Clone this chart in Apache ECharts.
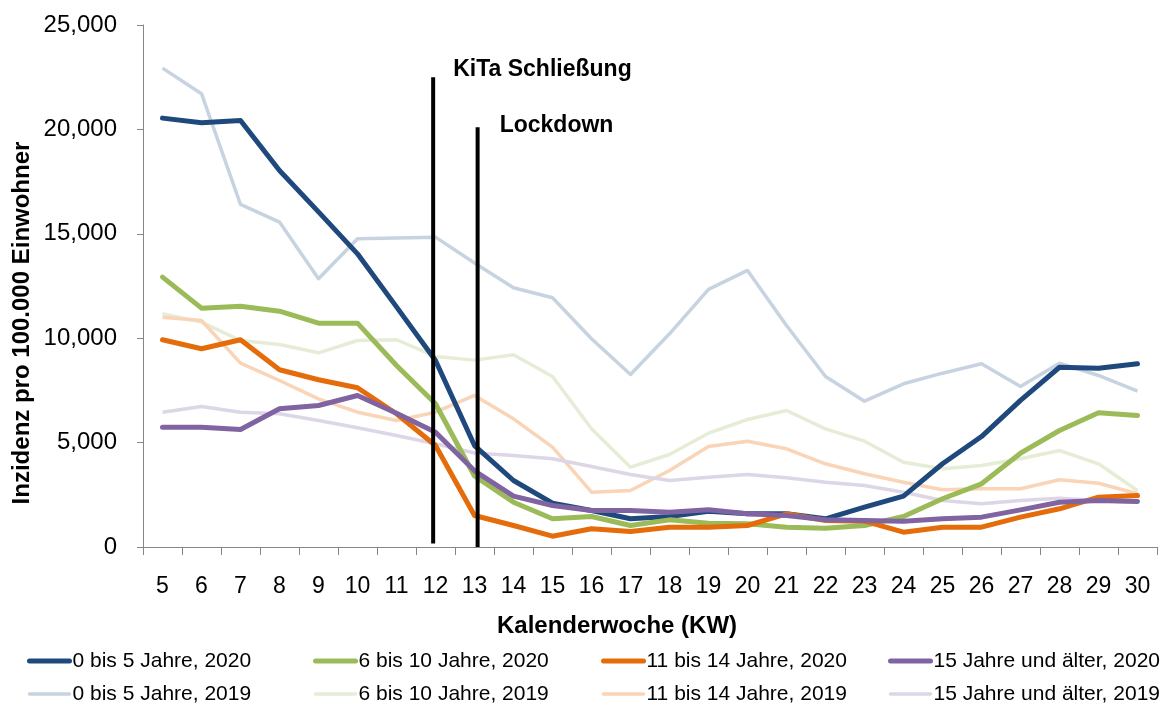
<!DOCTYPE html>
<html>
<head>
<meta charset="utf-8">
<script src="https://cdn.jsdelivr.net/npm/echarts@6/dist/echarts.min.js"></script>
<style>
html,body{margin:0;padding:0;background:#fff;}
#chart{width:1169px;height:706px;}
</style>
</head>
<body>
<div id="chart"></div>
<script>
var weeks = ['5','6','7','8','9','10','11','12','13','14','15','16','17','18','19','20','21','22','23','24','25','26','27','28','29','30'];
var yTicks = [0, 5000, 10000, 15000, 20000, 25000];

var age0to5_2020 = [20540,20320,20430,18030,16050,14040,11500,8930,4860,3185,2100,1750,1350,1460,1715,1590,1590,1350,1910,2435,3985,5290,7020,8610,8565,8775];
var age6to10_2020 = [12925,11440,11535,11295,10720,10720,8695,6860,3400,2146,1350,1460,1030,1300,1140,1110,950,900,1030,1460,2310,3027,4493,5580,6428,6300];
var age11to14_2020 = [9925,9494,9925,8488,8009,7625,6380,4862,1509,1030,517,872,742,950,950,1030,1590,1270,1236,710,950,950,1430,1830,2385,2467];
var age15plus_2020 = [5738,5738,5628,6620,6778,7257,6409,5499,3650,2435,1988,1748,1748,1668,1780,1590,1509,1300,1270,1236,1350,1430,1780,2146,2227,2180];

var age0to5_2019 = [22935,21710,16405,15560,12850,14760,14800,14840,13600,12415,11937,9970,8263,10210,12335,13245,10610,8167,6985,7817,8325,8775,7690,8805,8215,7463];
var age6to10_2019 = [11170,10770,9890,9700,9300,9890,9925,9125,8950,9205,8167,5660,3822,4430,5450,6107,6538,5660,5068,4062,3745,3904,4225,4622,3985,2706];
var age11to14_2019 = [11008,10850,8805,7975,7098,6457,6060,6457,7257,6140,4780,2625,2706,3664,4814,5068,4704,3985,3506,3104,2740,2788,2788,3219,3056,2548];
var age15plus_2019 = [6457,6730,6457,6380,6060,5710,5340,4943,4500,4383,4225,3856,3473,3185,3345,3473,3315,3104,2946,2625,2227,2069,2227,2337,2227,2146];

var seriesNames2020 = ['0 bis 5 Jahre, 2020','6 bis 10 Jahre, 2020','11 bis 14 Jahre, 2020','15 Jahre und älter, 2020'];
var seriesNames2019 = ['0 bis 5 Jahre, 2019','6 bis 10 Jahre, 2019','11 bis 14 Jahre, 2019','15 Jahre und älter, 2019'];

var markerLabels = ['KiTa Schließung', 'Lockdown'];
var markerWeeks = [11.94, 13.08];
var markerTops = [22500, 20100];
var markerBottoms = [170, 0];

var colors2020 = ['#1F497D','#9BBB59','#E46C0A','#8064A2'];
var colors2019 = ['#C8D3E1','#E5EDD6','#F9D4B7','#DDD6E7'];

var FONT = "'Liberation Sans', Arial, sans-serif";

var data2020 = [age0to5_2020, age6to10_2020, age11to14_2020, age15plus_2020];
var data2019 = [age0to5_2019, age6to10_2019, age11to14_2019, age15plus_2019];

var series = [];
for (var i = 0; i < 4; i++) {
  series.push({
    name: seriesNames2019[i], type: 'line', data: data2019[i],
    symbol: 'none', smooth: false, z: 2,
    color: colors2019[i],
    lineStyle: { width: 3.5, color: colors2019[i], join: 'round' }
  });
}
for (var j = 0; j < 4; j++) {
  series.push({
    name: seriesNames2020[j], type: 'line', data: data2020[j],
    symbol: 'none', smooth: false, z: 3,
    color: colors2020[j],
    lineStyle: { width: 5, color: colors2020[j], join: 'round', cap: 'round' }
  });
}
for (var k = 0; k < markerWeeks.length; k++) {
  series.push({
    type: 'line', xAxisIndex: 1, silent: true, z: 4,
    symbol: 'none',
    data: [[markerWeeks[k], markerBottoms[k]], [markerWeeks[k], markerTops[k]]],
    lineStyle: { width: 4, color: '#000' }
  });
}
series.push({
  type: 'scatter', xAxisIndex: 1, silent: true, z: 5,
  symbol: 'rect', symbolSize: 0.1, itemStyle: { color: '#000' },
  data: markerWeeks.map(function (w, idx) { return { value: [w, markerTops[idx]], name: markerLabels[idx] }; }),
  label: {
    show: true, position: 'right', distance: 20,
    formatter: function (p) { return p.name; },
    fontFamily: FONT, fontWeight: 'bold', fontSize: 23, color: '#000',
    textBorderWidth: 0, opacity: 1
  },
  labelLayout: function (params) {
    return params.dataIndex === 0 ? { dy: -8 } : { dy: -2, dx: 2 };
  }
});

function legendCol(idx, left) {
  return {
    orient: 'vertical', left: left, top: 650, padding: 0,
    itemWidth: 40, itemHeight: 14, itemGap: 11,
    itemStyle: { opacity: 0 },
    data: [
      { name: seriesNames2020[idx], lineStyle: { width: 5, cap: 'round' } },
      { name: seriesNames2019[idx], lineStyle: { width: 3.5, cap: 'round' } }
    ],
    textStyle: { fontFamily: FONT, fontSize: 21, color: '#000', lineHeight: 22, padding: [0,0,0,-2] }
  };
}

var chart = echarts.init(document.getElementById('chart'), null, { renderer: 'canvas' });
chart.setOption({
  backgroundColor: '#fff',
  animation: false,
  grid: { left: 143, right: 12, top: 25, bottom: 159, containLabel: false },
  legend: [legendCol(0, 27), legendCol(1, 313), legendCol(2, 601), legendCol(3, 888)],
  xAxis: [{
    type: 'category', data: weeks, boundaryGap: true,
    axisLine: { show: true, lineStyle: { color: '#868686', width: 1 } },
    axisTick: { show: true, length: 8, lineStyle: { color: '#868686' } },
    axisLabel: { margin: 28, fontFamily: FONT, fontSize: 23, color: '#000' },
    splitLine: { show: false }
  }, {
    type: 'value', min: 4.5, max: 30.5, show: false
  }],
  yAxis: {
    type: 'value', min: yTicks[0], max: yTicks[yTicks.length - 1], interval: yTicks[1] - yTicks[0],
    axisLine: { show: true, lineStyle: { color: '#868686', width: 1 } },
    axisTick: { show: true, length: 6, lineStyle: { color: '#868686' } },
    axisLabel: { margin: 26, fontFamily: FONT, fontSize: 24, color: '#000',
      formatter: function (v) { return v.toLocaleString('en-US'); } },
    splitLine: { show: false }
  },
  graphic: [{
    type: 'text', left: 497, top: 614,
    style: { text: 'Kalenderwoche (KW)', fontFamily: FONT, fontWeight: 'bold', fontSize: 24, fill: '#000' }
  }, {
    type: 'text', x: 22, y: 323, rotation: Math.PI / 2,
    style: { text: 'Inzidenz pro 100.000 Einwohner', fontFamily: FONT, fontWeight: 'bold', fontSize: 24, fill: '#000',
      align: 'center', verticalAlign: 'middle' }
  }],
  series: series
});
</script>
</body>
</html>
